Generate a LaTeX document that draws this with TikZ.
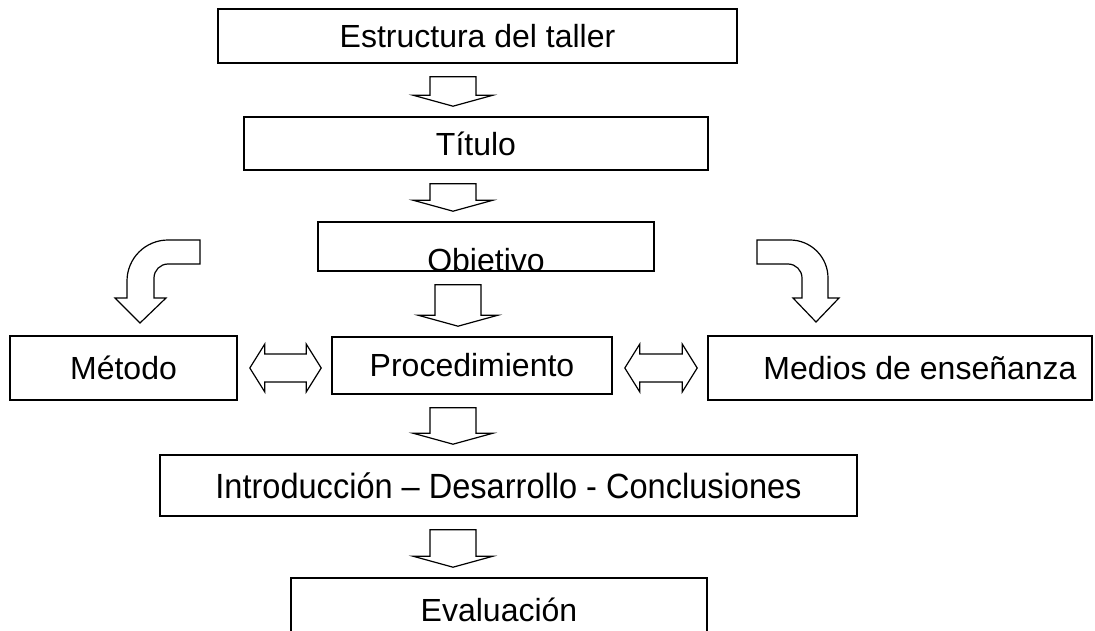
\documentclass[tikz,border=0pt]{standalone}
\usepackage{fontspec}
\usepackage{graphicx}
\setmainfont{Liberation Sans}
\usetikzlibrary{calc}

\begin{document}
\begin{tikzpicture}[x=1pt, y=-1pt,
    box/.style={draw, line width=1.6pt, inner sep=0pt, font=\fontsize{32}{38}\selectfont},
    blockarr/.style={draw, line width=1.2pt, fill=white, line join=miter}]
  \clip (0,0) rectangle (1095,631);
  \useasboundingbox (0,0) rectangle (1095,631);
  % Main column
  \node[box, minimum width=519pt, minimum height=54pt] (est) at (477.5,36) {Estructura del taller};
  \node[box, minimum width=464pt, minimum height=53pt] (tit) at (476,143.5) {Título};
  \begin{scope}
    \clip (318,222) rectangle (654,271);
    \node[font=\fontsize{32}{38}\selectfont, inner sep=0pt, anchor=base] (objtxt) at (486,271.5) {Objetivo};
  \end{scope}
  \node[box, minimum width=336pt, minimum height=49pt] (obj) at (486,246.5) {};
  % Middle row
  \node[box, minimum width=227pt, minimum height=64pt] (met) at (123.5,368) {Método};
  \node[box, minimum width=280pt, minimum height=57pt] (proc) at (472,365.5) {Procedimiento};
  \node[box, minimum width=384pt, minimum height=64pt] (med) at (900,368) {\hspace*{40pt}Medios de enseñanza};
  % Lower column
  \node[box, minimum width=697pt, minimum height=61pt, font=\fontsize{35}{40}\selectfont] (intro) at (508.5,485.5)
    {\scalebox{0.93}[1]{Introducción – Desarrollo - Conclusiones}};
  \node[box, minimum width=416pt, minimum height=64pt] (eval) at (499,610) {Evaluación};
  % Down arrows
  \foreach \a/\b/\xc in {est/tit/453, tit/obj/453, obj/proc/458, proc/intro/453, intro/eval/453} {
    \path (\xc,0 |- \a.south) ++(0,13) coordinate (top);
    \path (\xc,0 |- \b.north) ++(0,-10) coordinate (tip);
    \draw[blockarr] ($(top)+(-23,0)$) -- ($(tip)+(-23,-11)$) -- ($(tip)+(-40,-11)$) -- (tip)
      -- ($(tip)+(40,-11)$) -- ($(tip)+(23,-11)$) -- ($(top)+(23,0)$) -- cycle;
  }
  % Double arrows
  \foreach \a/\b in {met/proc, proc/med} {
    \coordinate (l) at ($(\a.east |- 0,368)+(12,0)$);
    \coordinate (r) at ($(\b.west |- 0,368)+(-10,0)$);
    \draw[blockarr] (l) -- ($(l)+(15,-24)$) -- ($(l)+(15,-14)$) -- ($(r)+(-15,-14)$)
      -- ($(r)+(-15,-24)$) -- (r) -- ($(r)+(-15,24)$) -- ($(r)+(-15,14)$)
      -- ($(l)+(15,14)$) -- ($(l)+(15,24)$) -- cycle;
  }
  % Curved arrows
  \draw[blockarr] (200,240) -- (168,240) arc[start angle=270, end angle=180, radius=41]
    -- (127,298) -- (115,298) -- (140,323) -- (166,298) -- (154,298) -- (154,278)
    arc[start angle=180, end angle=270, radius=14] -- (200,264) -- cycle;
  \draw[blockarr] (757,240) -- (790,240) arc[start angle=270, end angle=360, radius=38]
    -- (828,298) -- (839,298) -- (816,322) -- (793,298) -- (802,298) -- (802,278)
    arc[start angle=0, end angle=-90, radius=14] -- (757,264) -- cycle;
\end{tikzpicture}
\end{document}
